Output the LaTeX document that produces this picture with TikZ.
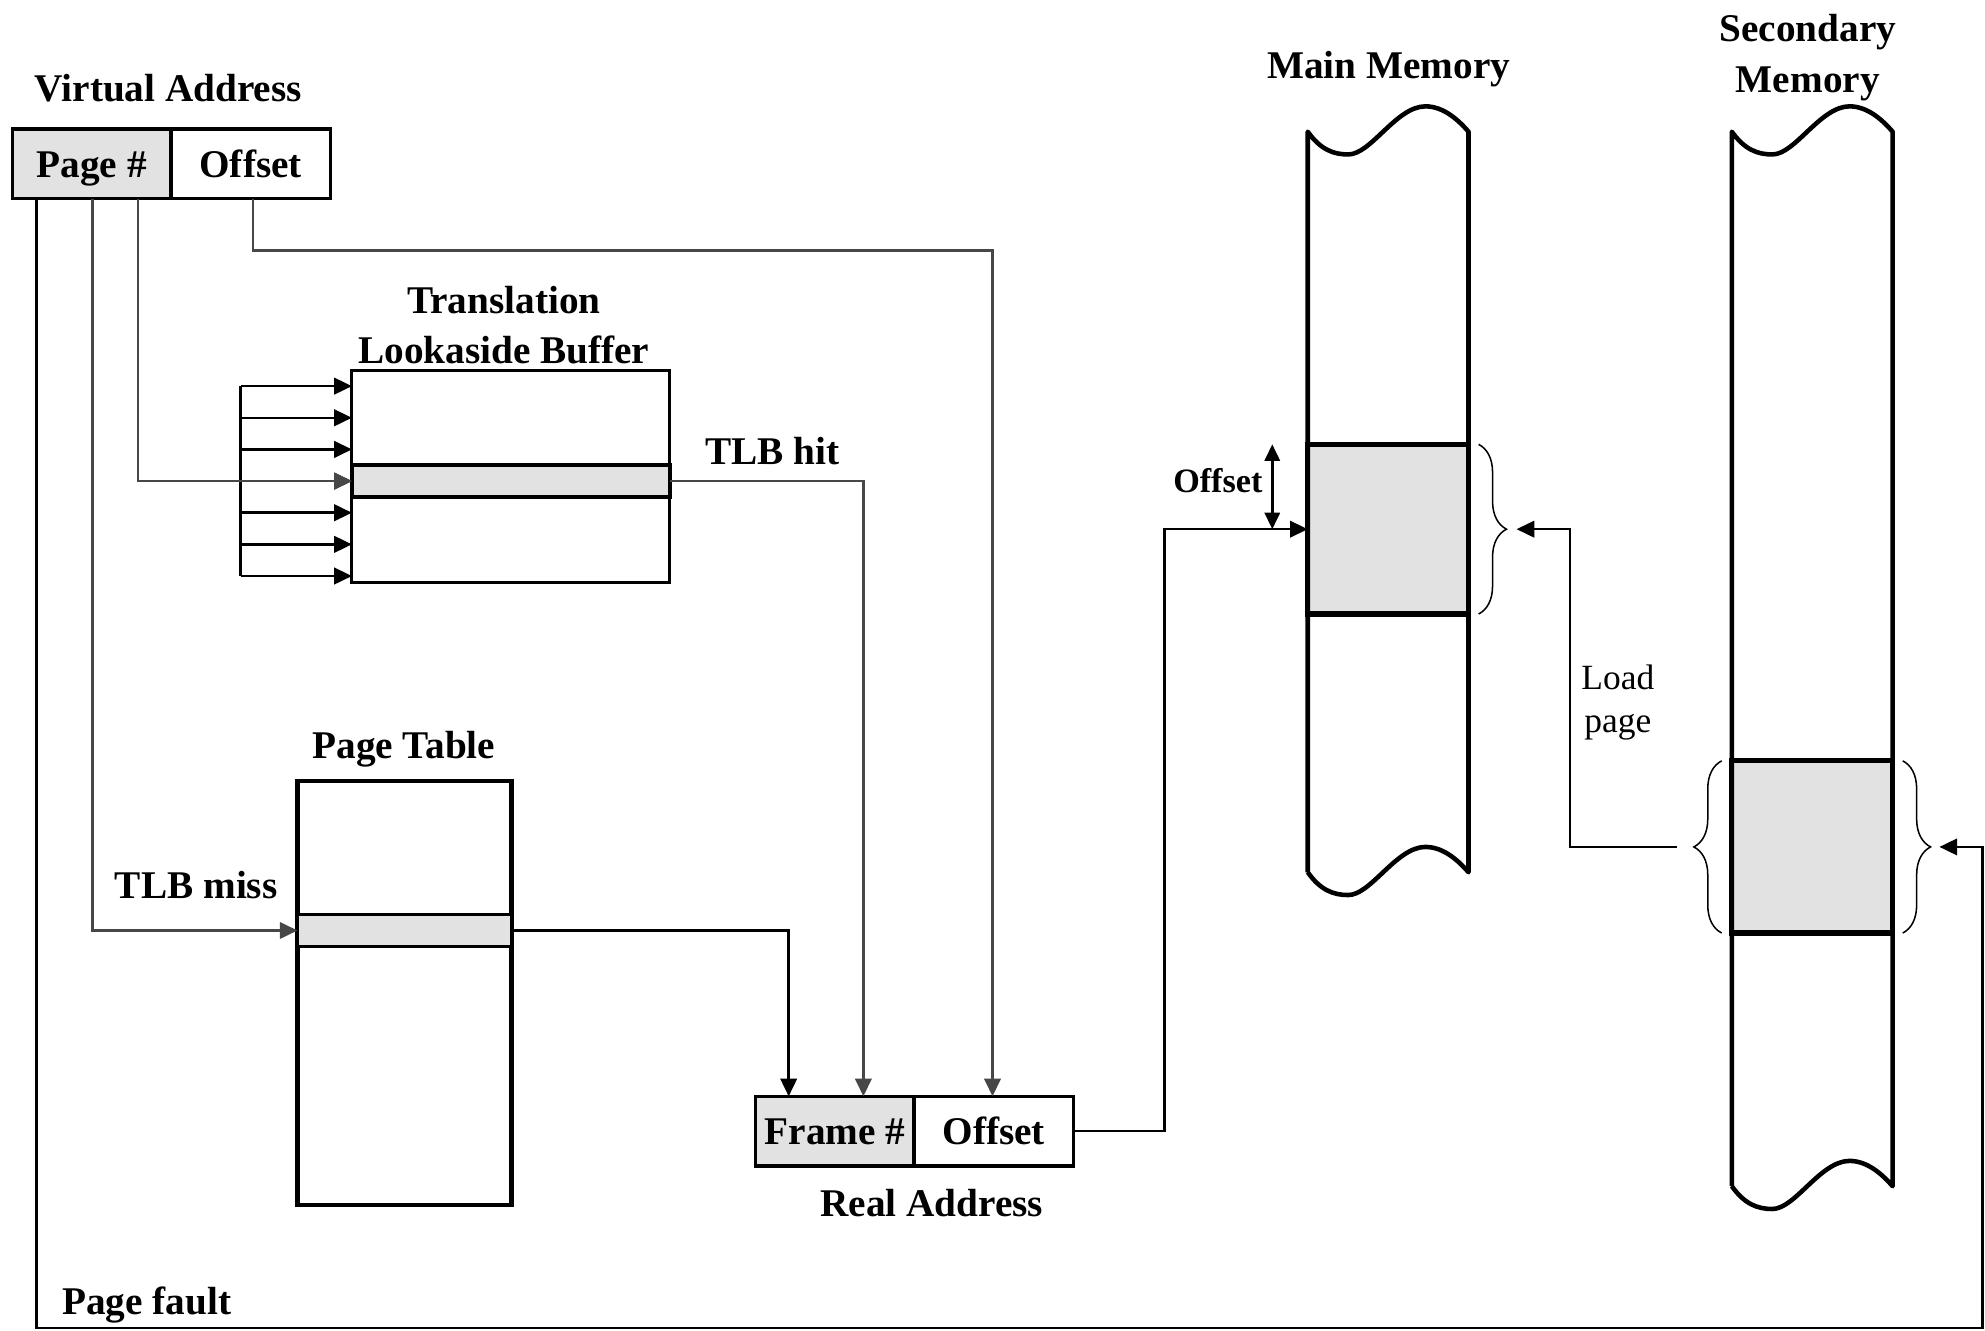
\documentclass[tikz,border=0pt]{standalone}
\usepackage{fontspec}
\setmainfont{Liberation Serif}
\usetikzlibrary{arrows.meta,decorations.pathreplacing}
\definecolor{lgray}{HTML}{E2E2E2}
\newcommand\memcol[3]{%
  \draw[colline] (#1,#3) -- (#1,#2)
    .. controls ({#1+10},{#2+14}) and ({#1+20},{#2+18}) .. ({#1+32},{#2+18})
    .. controls ({#1+50},{#2+18}) and ({#1+70},{#2-20}) .. ({#1+93},{#2-20})
    .. controls ({#1+108},{#2-20}) and ({#1+120},{#2-8}) .. ({#1+127},{#2})
    -- ({#1+127},{#3})
    .. controls ({#1+120},{#3-8}) and ({#1+108},{#3-20}) .. ({#1+93},{#3-20})
    .. controls ({#1+70},{#3-20}) and ({#1+50},{#3+18}) .. ({#1+32},{#3+18})
    .. controls ({#1+20},{#3+18}) and ({#1+10},{#3+14}) .. (#1,#3);}
\begin{document}
\begin{tikzpicture}[x=0.5pt,y=-0.5pt,
  every node/.style={inner sep=0pt, outer sep=0pt},
  lbl/.style={font=\fontsize{15.5}{18}\selectfont\bfseries, anchor=base},
  slbl/.style={font=\fontsize{13.5}{16}\selectfont\bfseries},
  llbl/.style={font=\fontsize{14}{16}\selectfont, anchor=base},
  fld/.style={draw, line width=1.3pt, minimum height=27.5pt, font=\fontsize{15.5}{18}\selectfont\bfseries, text height=10.5pt, text depth=0pt},
  tbl/.style={draw, line width=1.2pt},
  hrow/.style={draw, line width=1.5pt, fill=lgray, minimum height=12.5pt},
  blk/.style={draw, line width=2pt, fill=lgray, minimum width=63.5pt},
  colline/.style={line width=1.8pt, line join=round},
  conn/.style={line width=1pt},
  gconn/.style={line width=1pt, draw=black!72},
  arr/.style={-{Triangle[length=7pt,width=6.5pt]}},
  dbl/.style={{Triangle[length=6.5pt,width=6pt]}-{Triangle[length=6.5pt,width=6pt]}},
  brc/.style={decorate, decoration={brace, amplitude=11pt}, line width=0.6pt},
]
\useasboundingbox (0,0) rectangle (1568,1051);

% boxes
\node[fld, fill=lgray, minimum width=62.5pt] (vpg) at (72.5,129.5) {Page \#};
\node[fld, minimum width=63pt] (voff) at (198,129.5) {Offset};
\node[tbl, minimum width=125.5pt, minimum height=83.5pt] (tlb) at (403.5,376.5) {};
\node[hrow, minimum width=125.5pt] (tlbrow) at (403.5,380) {};
\node[draw, line width=1.8pt, minimum width=84.5pt, minimum height=167.5pt] (pt) at (319.5,784.5) {};
\node[hrow, line width=1.2pt, minimum width=84.5pt] (ptrow) at (319.5,735) {};
\node[fld, fill=lgray, minimum width=62.5pt] (rfr) at (659.5,893.5) {Frame \#};
\node[fld, minimum width=63pt] (roff) at (785,893.5) {Offset};
\node[blk, minimum height=67pt] (mmblk) at (1096.5,418) {};
\node[blk, minimum height=68pt] (sblk) at (1431.5,669) {};
\memcol{1033}{104}{689}
\memcol{1368}{104}{937}

% labels
\node[lbl] (tVA) at (133,80) {Virtual Address};
\node[lbl] (tTr) at (398,248) {Translation};
\node[lbl] (tLB) at (398,287) {Lookaside Buffer};
\node[lbl] (tHit) at (610,367) {TLB hit};
\node[lbl] (tPT) at (319,599) {Page Table};
\node[lbl] (tMiss) at (155,710) {TLB miss};
\node[lbl] (tRA) at (736,961) {Real Address};
\node[lbl] (tMM) at (1097,62) {Main Memory};
\node[lbl] (tSec) at (1428,33) {Secondary};
\node[lbl] (tSM) at (1428,73) {Memory};
\node[slbl] (tOff) at (962,380) {Offset};
\node[llbl] (tLoad) at (1278,545) {Load};
\node[llbl] (tpage) at (1278,579) {page};
\node[lbl] (tPF) at (116,1038) {Page fault};

% comb into TLB
\coordinate (combT) at (190,305);
\coordinate (combB) at (190,455);
\draw[conn] (combT) -- (combB);
\foreach \yy in {305,330,355,380,405,430,455}
  \draw[conn,arr] (combT |- 0,\yy) -- (tlb.west |- 0,\yy);

% connectors
\coordinate (pf1) at (29,1049);
\coordinate (pf2) at (1566,1049);
\coordinate (ocor) at (784,198);
\draw[gconn,arr] (vpg.south -| 109,0) |- (tlbrow.west);
\draw[gconn,arr] (vpg.south -| 73,0) |- (ptrow.west);
\draw[conn,arr] (vpg.south -| pf1) -- (pf1) -- (pf2) -- (pf2 |- sblk.east) -- ([xshift=18.5pt]sblk.east);
\draw[gconn,arr] (voff.south -| 200,0) |- (ocor) -- (roff.north -| ocor);
\draw[gconn,arr] (tlbrow.east) -| (rfr.north -| 682,0);
\draw[conn,arr] (ptrow.east) -| (rfr.north -| 623,0);
\draw[conn,arr] (roff.east) -| (mmblk.west -| 920,0) -- (mmblk.west);
\draw[conn,dbl] (mmblk.north west -| 1005,0) -- (mmblk.west -| 1005,0);

% braces
\draw[brc] ([xshift=4pt]mmblk.north east) -- ([xshift=4pt]mmblk.south east);
\draw[brc] ([xshift=-4pt]sblk.south west) -- ([xshift=-4pt]sblk.north west);
\draw[brc] ([xshift=4pt]sblk.north east) -- ([xshift=4pt]sblk.south east);

% load page
\coordinate (ldS) at ([xshift=-21.5pt]sblk.west);
\draw[conn,arr] (ldS) -| (mmblk.east -| 1240,0) -- ([xshift=19pt]mmblk.east);
\end{tikzpicture}
\end{document}
